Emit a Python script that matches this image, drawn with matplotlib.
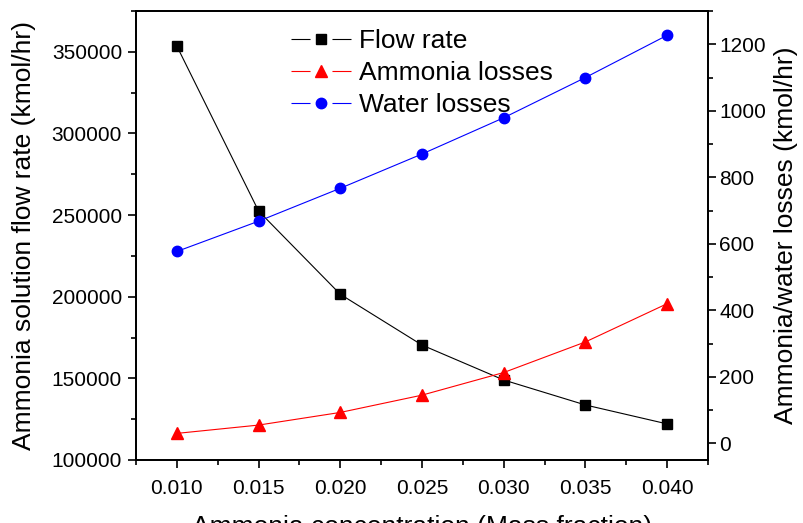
import matplotlib
matplotlib.use("Agg")
import matplotlib.pyplot as plt
from matplotlib.lines import Line2D
from matplotlib.legend_handler import HandlerTuple
from matplotlib.ticker import MultipleLocator

plt.rcParams['font.family'] = ['Liberation Sans', 'DejaVu Sans']
plt.rcParams['lines.scale_dashes'] = False

conc = [0.010, 0.015, 0.020, 0.025, 0.030, 0.035, 0.040]
flow_rate = [353500, 252500, 201500, 170400, 149000, 133700, 122100]
ammonia_losses = [30, 55, 93, 145, 213, 305, 420]
water_losses = [577, 668, 767, 870, 979, 1100, 1227]

fig = plt.figure(figsize=(8.04, 5.23), dpi=100)
ax = fig.add_axes([136/804, 1-460/523, (708-136)/804, (460-11)/523])
ax2 = ax.twinx()

ax.plot(conc, flow_rate, color='black', lw=0.8, marker='s', ms=6.5)
ax2.plot(conc, ammonia_losses, color='red', lw=0.8, marker='^', ms=9)
ax2.plot(conc, water_losses, color='blue', lw=0.8, marker='o', ms=7.5)

ax.set_xlim(0.0075, 0.0425)
ax.set_ylim(100000, 375000)
ax2.set_ylim(-50, 1300)

ax.xaxis.set_major_locator(MultipleLocator(0.005))
ax.xaxis.set_minor_locator(MultipleLocator(0.0025))
ax.xaxis.set_major_formatter(plt.FormatStrFormatter('%.3f'))
ax.yaxis.set_major_locator(MultipleLocator(50000))
ax.yaxis.set_minor_locator(MultipleLocator(25000))
ax2.yaxis.set_major_locator(MultipleLocator(200))
ax2.yaxis.set_minor_locator(MultipleLocator(100))

for a in (ax, ax2):
    for s in a.spines.values():
        s.set_linewidth(1.3)
    a.tick_params(which='major', length=6, width=1.2, labelsize=15, direction='out')
    a.tick_params(which='minor', length=3.5, width=1.2, direction='out')
ax.tick_params(axis='x', pad=8)
ax.tick_params(axis='y', pad=4)
ax2.tick_params(axis='y', pad=2)

ax.set_xlabel('Ammonia concentration (Mass fraction)', fontsize=19, labelpad=12)
ax.set_ylabel('Ammonia solution flow rate (kmol/hr)', fontsize=19, labelpad=11)
ax2.set_ylabel('Ammonia/water losses (kmol/hr)', fontsize=19, labelpad=6)

def proxy(color, marker, ms):
    ln = Line2D([], [], color=color, lw=0.8, dashes=(13.7, 15.8, 13.7, 200))
    mk = Line2D([], [], color=color, lw=0, marker=marker, ms=ms)
    return (ln, mk)

handles = [proxy('black', 's', 6.5), proxy('red', '^', 9), proxy('blue', 'o', 7.5)]
labels = ['Flow rate', 'Ammonia losses', 'Water losses']
leg = ax2.legend(handles, labels, handler_map={tuple: HandlerTuple(ndivide=1, pad=0)},
                 loc='upper left', bbox_to_anchor=(291/804, 1-29/523),
                 bbox_transform=fig.transFigure, frameon=False, fontsize=19,
                 handlelength=2.27, handletextpad=0.3, labelspacing=0.3,
                 borderpad=0, borderaxespad=0)

fig.savefig('out.png', dpi=100)
